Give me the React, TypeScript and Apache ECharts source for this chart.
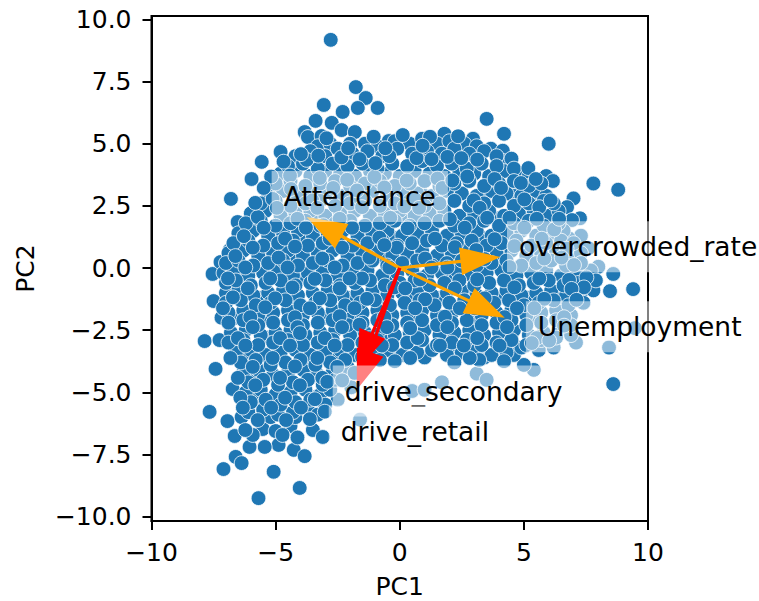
import React, { useEffect, useRef } from "react";
import * as echarts from "echarts";

const xTicks = [-10, -5, 0, 5, 10];
const yTicks = [-10, -7.5, -5, -2.5, 0, 2.5, 5, 7.5, 10];

// points on the outer rim of the cloud
const outerPoints = [
  [-2.78,9.18],[-1.77,7.28],[-1.37,6.84],[-0.89,6.44],[-1.69,6.44],[-2.3,6.28],[-3.06,6.56],[-3.39,5.92],[-2.74,5.84],
  [-3.83,5.47],[-3.7,5.27],[-3.15,5.31],[-2.34,5.55],[-1.81,5.47],[-0.44,5.11],[-4.8,4.67],[-5.56,4.27],[-5.97,3.58],[-6.8,2.78],
  [3.5,6.0],[4.2,5.4],[6.0,5.0],[2.95,5.2],[1.8,5.4],[3.67,4.8],[4.15,4.72],[2.74,4.6],[3.95,4.25],[4.67,3.85],[5.9,3.7],[6.17,3.5],[5.36,3.3],
  [7.0,2.8],[7.8,3.4],[8.8,3.15],[6.74,2.45],[7.26,2.0],[6.94,1.93],[7.3,1.3],[7.6,0.8],
  [8.6,-0.24],[8.0,0.05],[8.47,-0.93],[9.4,-0.85],[9.47,-2.42],[8.43,-3.2],[8.6,-4.67],[7.1,-3.0],[6.2,-3.2],[5.6,-3.3],
  [-7.86,-2.94],[-7.26,-2.9],[-7.42,-4.06],[-6.73,-4.87],[-7.66,-5.79],[-6.94,-6.16],[-6.37,-6.0],[-6.65,-6.76],[-6.61,-7.6],[-6.37,-7.85],
  [-7.1,-8.09],[-5.08,-8.2],[-5.69,-9.26],[-4.03,-8.85],[-4.27,-7.32],[-3.83,-7.57],[-4.88,-7.12],[-5.44,-7.2],[-6.05,-7.2],
  [-3.5,-6.52],[-3.1,-6.8],[-4.4,-6.36],[-5.52,-6.48],[-5.0,-6.56],[-7.54,-0.24],[-7.5,-1.33],[-7.18,-2.0],[-7.22,0.24],[-6.85,0.72],[-6.53,1.85],[-5.65,2.53],
  [0.5,-4.95],[1.0,-4.9],[1.7,-4.6],[3.1,-4.25],[3.5,-4.5],[5.4,-4.1],[5.0,-3.9],[-2.5,-5.3],[-1.95,-4.8],[-1.6,-6.1],
];

// drawn first, under the rows, so that gaps between the rows read as blue
const interiorUnder = [
  [-4.5,3.7],[-3.3,3.7],[-2.1,3.7],[-0.9,3.7],[0.3,3.7],[1.5,3.7],[2.7,3.7],[3.9,3.7],
  [-5.0,2.9],[-3.8,2.9],[-2.6,2.9],[-1.4,2.9],[-0.2,2.9],[1.0,2.9],[2.2,2.9],[3.4,2.9],[4.6,2.9],[5.7,2.9],
  [-5.7,2.0],[-4.5,2.0],[-3.3,2.0],[-2.1,2.0],[-0.9,2.0],[0.3,2.0],[1.5,2.0],[2.7,2.0],[3.9,2.0],[5.1,2.0],[6.2,2.0],
  [-6.2,1.2],[-5.0,1.2],[-3.8,1.2],[-2.6,1.2],[-1.4,1.2],[-0.2,1.2],[1.0,1.2],[2.2,1.2],[3.4,1.2],[4.6,1.2],[5.8,1.2],[6.8,1.2],
  [-6.6,0.4],[-5.4,0.4],[-4.2,0.4],[-3.0,0.4],[-1.8,0.4],[-0.6,0.4],[0.6,0.4],[1.8,0.4],[3.0,0.4],[4.2,0.4],[5.4,0.4],[6.6,0.4],
  [-6.4,-0.4],[-5.2,-0.4],[-4.0,-0.4],[-2.8,-0.4],[-1.6,-0.4],[-0.4,-0.4],[0.8,-0.4],[2.0,-0.4],[3.2,-0.4],[4.4,-0.4],[5.6,-0.4],[6.8,-0.4],
  [-6.8,-1.2],[-5.6,-1.2],[-4.4,-1.2],[-3.2,-1.2],[-2.0,-1.2],[-0.8,-1.2],[0.4,-1.2],[1.6,-1.2],[2.8,-1.2],[4.0,-1.2],[5.2,-1.2],[6.4,-1.2],
  [-6.6,-2.0],[-5.4,-2.0],[-4.2,-2.0],[-3.0,-2.0],[-1.8,-2.0],[-0.6,-2.0],[0.6,-2.0],[1.8,-2.0],[3.0,-2.0],[4.2,-2.0],[5.4,-2.0],[6.6,-2.0],
  [-6.5,-2.8],[-5.3,-2.8],[-4.1,-2.8],[-2.9,-2.8],[-1.7,-2.8],[-0.5,-2.8],[0.7,-2.8],[1.9,-2.8],[3.1,-2.8],[4.3,-2.8],[5.5,-2.8],
  [-6.2,-3.6],[-5.0,-3.6],[-3.8,-3.6],[-2.6,-3.6],[-1.4,-3.6],[-0.2,-3.5],[1.0,-3.6],[2.2,-3.5],[3.4,-3.6],[4.6,-3.5],
  [-6.0,-4.4],[-4.8,-4.4],[-3.6,-4.4],[-2.5,-4.3],[-5.8,-5.2],[-4.6,-5.2],[-3.4,-5.2],[-5.2,-6.0],[-4.2,-6.0],
];

const interiorFirst = [
  [-3.3,4.9],[-2.8,5.0],[-2.0,5.0],[-1.4,5.0],[-0.9,4.9],[-0.2,5.1],[0.4,5.0],[0.9,5.2],[1.5,5.0],[2.0,5.1],[2.6,5.0],[3.1,4.9],[4.2,4.3],
  [-4.2,4.5],[-3.6,4.7],[-3.0,4.5],[-2.5,4.8],[-1.9,4.6],[-1.3,4.7],[-0.7,4.5],[-0.1,4.8],[0.5,4.6],[1.1,4.7],[1.7,4.6],[2.2,4.8],[2.8,4.6],[3.4,4.7],[3.9,4.5],[4.5,4.4],
  [-4.8,3.8],[-4.2,3.9],[-3.6,3.7],[-3.0,3.9],[-2.4,3.8],[-1.8,3.7],[-1.2,3.9],[-0.6,3.8],[0.0,3.7],[0.6,3.9],[1.2,3.8],[1.8,3.7],[2.4,3.9],[3.0,3.8],[3.6,3.7],[4.2,3.9],[4.8,3.8],[5.2,3.7],
  [-5.3,3.0],[-4.7,3.1],[-4.1,2.9],[-3.5,3.0],[-2.9,3.1],[-2.3,2.9],[-1.7,3.0],[-1.1,3.1],[-0.5,2.9],[0.1,3.1],[0.7,3.0],[1.3,2.9],[1.9,3.1],[2.5,3.0],[3.1,2.9],[3.7,3.1],[4.3,3.0],[4.9,2.9],[5.5,3.1],[5.9,2.9],
  [-6.0,2.2],[-5.4,2.3],[-4.8,2.1],[-4.2,2.2],[-3.6,2.3],[-3.0,2.1],[-2.4,2.2],[-1.8,2.3],[-1.2,2.1],[-0.6,2.2],[0.0,2.3],[0.6,2.1],[1.2,2.2],[1.8,2.3],[2.4,2.1],[3.0,2.2],[3.6,2.3],[4.2,2.1],[4.8,2.2],[5.4,2.3],[6.0,2.1],[6.4,2.3],
  [-6.5,1.4],[-5.9,1.5],[-5.3,1.3],[-4.7,1.4],[-4.1,1.5],[-3.5,1.3],[-2.9,1.4],[-2.3,1.5],[-1.7,1.3],[-1.1,1.4],[-0.5,1.5],[0.1,1.3],[0.7,1.4],[1.3,1.5],[1.9,1.3],[2.5,1.4],[3.1,1.5],[3.7,1.3],[4.3,1.4],[4.9,1.5],[5.5,1.3],[6.1,1.4],[6.6,1.5],
  [-6.9,0.6],[-6.3,0.7],[-5.7,0.5],[-5.1,0.6],[-4.5,0.7],[-3.9,0.5],[-3.3,0.6],[-2.7,0.7],[-2.1,0.5],[-1.5,0.6],[-0.9,0.7],[-0.3,0.5],[0.3,0.6],[0.9,0.7],[1.5,0.5],[2.1,0.6],[2.7,0.7],[3.3,0.5],[3.9,0.6],[4.5,0.7],[5.1,0.5],[5.7,0.6],[6.3,0.7],[6.9,0.5],[7.3,0.6],
  [-7.1,-0.2],[-6.7,-0.1],[-6.1,-0.3],[-5.5,-0.2],[-4.9,-0.1],[-4.3,-0.3],[-3.7,-0.2],[-3.1,-0.1],[-2.5,-0.3],[-1.9,-0.2],[-1.3,-0.1],[-0.7,-0.3],[-0.1,-0.2],[0.5,-0.1],[1.1,-0.3],[1.7,-0.2],[2.3,-0.1],[2.9,-0.3],[3.5,-0.2],[4.1,-0.1],[4.7,-0.3],[5.3,-0.2],[5.9,-0.1],[6.5,-0.3],[7.1,-0.2],[7.7,-0.1],
  [-7.0,-1.0],[-6.5,-0.9],[-5.9,-1.1],[-5.3,-1.0],[-4.7,-0.9],[-4.1,-1.1],[-3.5,-1.0],[-2.9,-0.9],[-2.3,-1.1],[-1.7,-1.0],[-1.1,-0.9],[-0.5,-1.1],[0.1,-1.0],[0.7,-0.9],[1.3,-1.1],[1.9,-1.0],[2.5,-0.9],[3.1,-1.1],[3.7,-1.0],[4.3,-0.9],[4.9,-1.1],[5.5,-1.0],[6.1,-0.9],[6.7,-1.1],[7.3,-1.0],[7.8,-0.9],
  [-6.9,-1.8],[-6.3,-1.7],[-5.7,-1.9],[-5.1,-1.8],[-4.5,-1.7],[-3.9,-1.9],[-3.3,-1.8],[-2.7,-1.7],[-2.1,-1.9],[-1.5,-1.8],[-0.9,-1.7],[-0.3,-1.9],[0.3,-1.8],[0.9,-1.7],[1.5,-1.9],[2.1,-1.8],[2.7,-1.7],[3.3,-1.9],[3.9,-1.8],[4.5,-1.7],[5.1,-1.9],[5.7,-1.8],[6.3,-1.7],[6.9,-1.9],
  [-6.8,-2.6],[-6.2,-2.5],[-5.6,-2.7],[-5.0,-2.6],[-4.4,-2.5],[-3.8,-2.7],[-3.2,-2.6],[-2.6,-2.5],[-2.0,-2.7],[-1.4,-2.6],[-0.8,-2.5],[-0.2,-2.7],[0.4,-2.6],[1.0,-2.5],[1.6,-2.7],[2.2,-2.6],[2.8,-2.5],[3.4,-2.7],[4.0,-2.6],[4.6,-2.5],[5.2,-2.7],[5.8,-2.6],[6.4,-2.5],[6.9,-2.7],
  [-6.6,-3.4],[-6.0,-3.3],[-5.4,-3.5],[-4.8,-3.4],[-4.2,-3.3],[-3.6,-3.5],[-3.0,-3.4],[-2.4,-3.3],[-1.8,-3.5],[-1.1,-3.4],[-0.5,-3.3],[0.1,-3.5],[0.7,-3.4],[1.3,-3.3],[1.9,-3.5],[2.5,-3.4],[3.1,-3.3],[3.7,-3.5],[4.3,-3.4],[4.9,-3.2],
  [-6.3,-4.2],[-5.7,-4.1],[-5.1,-4.3],[-4.5,-4.2],[-3.9,-4.1],[-3.3,-4.3],[-2.7,-4.2],[-2.1,-4.0],[-1.4,-3.95],
  [-6.2,-5.0],[-5.6,-4.9],[-5.0,-5.1],[-4.4,-5.0],[-3.8,-4.9],[-3.2,-5.1],[-2.8,-4.9],
  [-6.1,-5.8],[-5.5,-5.7],[-4.9,-5.9],[-4.3,-5.8],[-3.7,-5.7],[-3.3,-5.9],
];

const interiorSecond = [
  [-4.5,4.1],[-3.9,4.2],[-3.3,4.0],[-2.7,4.2],[-2.1,4.1],[-1.5,4.2],[-0.9,4.0],[-0.3,4.2],[0.3,4.1],[0.9,4.3],[1.5,4.1],[2.1,4.2],[2.7,4.0],[3.3,4.2],[3.9,4.1],[4.6,4.0],
  [-5.0,3.4],[-4.4,3.5],[-3.8,3.3],[-3.2,3.4],[-2.6,3.5],[-2.0,3.3],[-1.4,3.4],[-0.8,3.5],[-0.2,3.3],[0.4,3.4],[1.0,3.5],[1.6,3.3],[2.2,3.4],[2.8,3.5],[3.4,3.3],[4.0,3.4],[4.6,3.5],[5.2,3.3],[5.7,3.4],
  [-5.6,2.6],[-5.0,2.7],[-4.4,2.5],[-3.8,2.6],[-3.2,2.7],[-2.6,2.5],[-2.0,2.6],[-1.4,2.7],[-0.8,2.5],[-0.2,2.6],[0.4,2.7],[1.0,2.5],[1.6,2.6],[2.2,2.7],[2.8,2.5],[3.4,2.6],[4.0,2.7],[4.6,2.5],[5.2,2.6],[5.8,2.7],[6.2,2.6],
  [-6.2,1.8],[-5.6,1.9],[-5.0,1.7],[-4.4,1.8],[-3.8,1.9],[-3.2,1.7],[-2.6,1.8],[-2.0,1.9],[-1.4,1.7],[-0.8,1.8],[-0.2,1.9],[0.4,1.7],[1.0,1.8],[1.6,1.9],[2.2,1.7],[2.8,1.8],[3.4,1.9],[4.0,1.7],[4.6,1.8],[5.2,1.9],[5.8,1.7],[6.4,1.8],
  [-6.7,1.0],[-6.1,1.1],[-5.5,0.9],[-4.9,1.0],[-4.3,1.1],[-3.7,0.9],[-3.1,1.0],[-2.5,1.1],[-1.9,0.9],[-1.3,1.0],[-0.7,1.1],[-0.1,0.9],[0.5,1.0],[1.1,1.1],[1.7,0.9],[2.3,1.0],[2.9,1.1],[3.5,0.9],[4.1,1.0],[4.7,1.1],[5.3,0.9],[5.9,1.0],[6.5,1.1],[7.0,1.0],
  [-7.0,0.2],[-6.5,0.3],[-5.9,0.1],[-5.3,0.2],[-4.7,0.3],[-4.1,0.1],[-3.5,0.2],[-2.9,0.3],[-2.3,0.1],[-1.7,0.2],[-1.1,0.3],[-0.5,0.1],[0.1,0.2],[0.7,0.3],[1.3,0.1],[1.9,0.2],[2.5,0.3],[3.1,0.1],[3.7,0.2],[4.3,0.3],[4.9,0.1],[5.5,0.2],[6.1,0.3],[6.7,0.1],[7.3,0.2],
  [-7.0,-0.6],[-6.6,-0.5],[-6.0,-0.7],[-5.4,-0.6],[-4.8,-0.5],[-4.2,-0.7],[-3.6,-0.6],[-3.0,-0.5],[-2.4,-0.7],[-1.8,-0.6],[-1.2,-0.5],[-0.6,-0.7],[0.0,-0.6],[0.6,-0.5],[1.2,-0.7],[1.8,-0.6],[2.4,-0.5],[3.0,-0.7],[3.6,-0.6],[4.2,-0.5],[4.8,-0.7],[5.4,-0.6],[6.0,-0.5],[6.6,-0.7],[7.2,-0.6],[7.9,-0.5],
  [-7.0,-1.4],[-6.4,-1.3],[-5.8,-1.5],[-5.2,-1.4],[-4.6,-1.3],[-4.0,-1.5],[-3.4,-1.4],[-2.8,-1.3],[-2.2,-1.5],[-1.6,-1.4],[-1.0,-1.3],[-0.4,-1.5],[0.2,-1.4],[0.8,-1.3],[1.4,-1.5],[2.0,-1.4],[2.6,-1.3],[3.2,-1.5],[3.8,-1.4],[4.4,-1.3],[5.0,-1.5],[5.6,-1.4],[6.2,-1.3],[6.8,-1.5],[7.4,-1.4],
  [-6.9,-2.2],[-6.3,-2.1],[-5.7,-2.3],[-5.1,-2.2],[-4.5,-2.1],[-3.9,-2.3],[-3.3,-2.2],[-2.7,-2.1],[-2.1,-2.3],[-1.5,-2.2],[-0.9,-2.1],[-0.3,-2.3],[0.3,-2.2],[0.9,-2.1],[1.5,-2.3],[2.1,-2.2],[2.7,-2.1],[3.3,-2.3],[3.9,-2.2],[4.5,-2.1],[5.1,-2.3],[5.7,-2.2],[6.3,-2.1],[6.9,-2.3],
  [-6.9,-3.0],[-6.3,-2.9],[-5.7,-3.1],[-5.1,-3.0],[-4.5,-2.9],[-3.9,-3.1],[-3.3,-3.0],[-2.7,-2.9],[-2.1,-3.1],[-1.5,-3.0],[-0.9,-2.9],[-0.3,-3.1],[0.3,-3.0],[0.9,-2.9],[1.5,-3.1],[2.1,-3.0],[2.7,-2.9],[3.3,-3.1],[3.9,-3.0],[4.5,-2.9],[5.1,-3.1],[5.7,-2.9],[6.3,-2.8],
  [-6.4,-3.8],[-5.8,-3.7],[-5.2,-3.9],[-4.6,-3.8],[-4.0,-3.7],[-3.4,-3.9],[-2.8,-3.8],[-2.2,-3.7],[-0.8,-3.7],[-0.2,-3.75],[2.2,-3.8],[3.2,-3.7],[4.2,-3.75],
  [-6.1,-4.6],[-5.5,-4.5],[-4.9,-4.7],[-4.3,-4.6],[-3.7,-4.5],[-3.1,-4.7],[-2.6,-4.5],
  [-6.0,-5.4],[-5.4,-5.3],[-4.8,-5.5],[-4.2,-5.4],[-3.6,-5.3],[-3.0,-5.5],
];

// loose points laid over the rows, filling the gaps between them
const interiorThird = [
  [-3.75,4.35],[-2.35,4.45],[-1.62,4.38],[-0.42,4.5],[0.68,4.42],[1.92,4.47],[3.12,4.36],[-2.95,5.22],[-1.05,5.28],[0.12,5.35],[1.22,5.28],[2.35,5.3],
  [-4.42,3.72],[-3.22,3.62],[-2.12,3.55],[-1.02,3.66],[0.28,3.52],[1.52,3.6],[2.72,3.68],[3.82,3.58],[4.88,3.42],[-3.98,4.58],[-0.98,4.22],[1.28,4.38],
  [-5.12,2.78],[-4.38,3.18],[-3.52,2.72],[-2.68,3.22],[-1.58,2.78],[-0.62,3.24],[0.62,2.76],[1.72,3.22],[2.98,2.72],[4.08,3.22],[5.02,2.76],[5.62,2.45],
  [-5.72,2.05],[-4.95,2.42],[-4.12,1.98],[-3.32,2.42],[-2.42,1.98],[-1.52,2.45],[-0.38,2.02],[0.78,2.42],[2.02,1.96],[3.22,2.42],[4.42,2.02],[5.52,1.98],[6.22,1.55],
  [-6.28,1.28],[-5.48,1.62],[-4.62,1.18],[-3.78,1.62],[-2.82,1.18],[-1.92,1.62],[-0.82,1.22],[0.32,1.6],[1.42,1.18],[2.62,1.62],[3.82,1.16],[5.02,1.62],[5.72,1.18],[6.72,0.78],
  [-6.62,0.48],[-5.92,0.82],[-4.88,0.42],[-4.22,0.86],[-3.12,0.38],[-2.32,0.82],[-1.22,0.42],[-0.12,0.82],[1.02,0.38],[2.22,0.84],[3.42,0.36],[4.62,0.88],[5.82,0.38],[6.52,0.42],[7.02,0.12],[7.52,-0.38],
  [-6.92,-0.42],[-6.22,0.02],[-5.22,-0.42],[-4.52,0.02],[-3.42,-0.44],[-2.62,0.02],[-1.52,-0.42],[-0.42,0.02],[0.82,-0.46],[1.92,0.02],[3.12,-0.46],[4.42,0.04],[5.62,-0.42],[6.82,-0.48],[7.42,-0.78],
  [-6.72,-1.18],[-6.12,-0.82],[-5.02,-1.22],[-4.32,-0.78],[-3.22,-1.22],[-2.42,-0.82],[-1.32,-1.24],[-0.22,-0.78],[1.02,-1.26],[2.22,-0.82],[3.42,-1.22],[4.62,-0.78],[5.82,-1.24],[6.92,-0.84],[7.12,-1.28],
  [-7.12,-1.62],[-6.02,-1.98],[-5.42,-1.58],[-4.22,-1.98],[-3.62,-1.62],[-2.42,-1.94],[-1.82,-1.62],[-0.62,-1.98],[0.62,-1.62],[1.82,-1.96],[3.02,-1.62],[4.22,-1.98],[5.42,-1.62],[6.62,-1.98],
  [-6.52,-2.82],[-5.92,-2.38],[-4.82,-2.82],[-4.12,-2.38],[-3.02,-2.82],[-2.32,-2.38],[-1.22,-2.82],[-0.52,-2.38],[0.72,-2.82],[1.92,-2.38],[3.12,-2.82],[4.32,-2.38],[5.52,-2.82],[6.62,-2.32],
  [-6.82,-3.62],[-6.22,-3.12],[-5.12,-3.62],[-4.42,-3.12],[-3.32,-3.62],[-2.62,-3.12],[-1.52,-3.58],[-0.72,-3.12],[0.42,-3.62],[1.62,-3.12],[2.82,-3.62],[4.02,-3.12],[5.32,-3.02],[6.02,-2.92],
  [-6.52,-4.42],[-5.92,-3.98],[-4.82,-4.42],[-4.22,-3.96],[-3.12,-4.42],[-2.52,-3.98],[-1.82,-4.22],[-2.32,-4.52],
  [-6.42,-5.22],[-5.82,-4.72],[-4.62,-5.22],[-4.02,-4.72],[-3.42,-5.28],[-2.92,-4.58],[-3.02,-5.78],
  [-6.32,-5.62],[-5.72,-6.12],[-5.18,-5.62],[-4.58,-6.12],[-3.98,-5.62],[-3.62,-6.08],[-5.92,-6.72],[-4.72,-6.72],[-4.12,-6.82],[-6.22,-6.52],
  [-3.28,4.52],[-2.08,4.82],[-0.58,4.82],[0.92,4.92],[2.48,4.42],[-4.68,4.28],[-5.18,3.68],[-5.48,3.22],[-5.82,2.62],[5.18,4.02],[5.48,3.58],[6.08,2.72],[6.42,1.98],
  [-1.72,3.12],[0.18,2.48],[2.12,3.52],[3.52,2.02],[-3.08,1.72],[-0.62,0.92],[1.28,0.02],[3.08,0.72],[-2.02,-0.42],[0.22,-0.82],[2.42,-1.62],[4.72,-1.62],[-4.02,-2.62],[-1.62,-2.28],[0.42,-2.42],[2.58,-3.12],
];

// principal-component loadings: arrow tips from the origin
const arrowNames = ["Attendance", "overcrowded_rate", "Unemployment", "drive_retail", "drive_secondary"];
const arrowX = [-3.75, 4.05, 4.23, -1.73, -1.73];
const arrowY = [2.05, 0.44, -2.0, -4.11, -4.9];
const arrowColors = ["#ffa500", "#ffa500", "#ffa500", "#ff0000", "#ff0000"];

// annotation anchors (left edge of the box, vertical middle)
const labelNames = ["Attendance", "overcrowded_rate", "Unemployment", "drive_secondary", "drive_retail"];
const labelX = [-5.16, 4.32, 5.08, -2.7, -2.86];
const labelY = [2.88, 0.86, -2.36, -4.95, -6.56];

const FONT = "DejaVu Sans";
const scatterData = [...outerPoints, ...interiorUnder, ...interiorFirst, ...interiorSecond, ...interiorThird];

function renderArrow(params: any, api: any) {
  const tip = api.coord([api.value(0), api.value(1)]);
  const o = api.coord([0, 0]);
  const dx = tip[0] - o[0];
  const dy = tip[1] - o[1];
  const len = Math.sqrt(dx * dx + dy * dy);
  const ux = dx / len;
  const uy = dy / len;
  const px = -uy;
  const py = ux;
  const headLen = 40;
  const headW = 14;
  const shaftW = 1.6;
  const bx = tip[0] - ux * headLen;
  const by = tip[1] - uy * headLen;
  const color = arrowColors[params.dataIndex];
  return {
    type: "polygon",
    shape: {
      points: [
        [o[0] + px * shaftW, o[1] + py * shaftW],
        [bx + px * shaftW, by + py * shaftW],
        [bx + px * headW, by + py * headW],
        tip,
        [bx - px * headW, by - py * headW],
        [bx - px * shaftW, by - py * shaftW],
        [o[0] - px * shaftW, o[1] - py * shaftW],
      ],
    },
    style: { fill: color, stroke: null },
  };
}

function renderLabel(params: any, api: any) {
  const p = api.coord([api.value(0), api.value(1)]);
  return {
    type: "text",
    x: p[0],
    y: p[1],
    style: {
      text: labelNames[params.dataIndex],
      fill: "#000",
      font: `26.5px "${FONT}"`,
      align: "left",
      verticalAlign: "middle",
      backgroundColor: "rgba(255,255,255,0.5)",
      padding: [12, 12],
    },
  };
}

export default function App() {
  const ref = useRef<HTMLDivElement>(null);
  useEffect(() => {
    document.body.style.margin = "0";
    const chart = echarts.init(ref.current!, undefined, { renderer: "svg" });
    const tick = { show: true, length: 9, lineStyle: { color: "#000", width: 2 } };
    chart.setOption({
      animation: false,
      backgroundColor: "#fff",
      grid: {
        left: 151.5, right: 111, top: 16, bottom: 80,
        outerBoundsMode: "none",
        show: true, borderColor: "#000", borderWidth: 2, backgroundColor: "transparent",
      },
      xAxis: {
        type: "value",
        min: -10,
        max: 10,
        name: "PC1",
        nameLocation: "middle",
        nameGap: 53,
        nameTextStyle: { fontFamily: FONT, fontSize: 25, color: "#000" },
        splitLine: { show: false },
        axisLine: { show: true, onZero: false, lineStyle: { color: "#000", width: 2 } },
        axisTick: { ...tick, customValues: xTicks },
        axisLabel: {
          customValues: xTicks,
          fontFamily: FONT,
          fontSize: 25,
          color: "#000",
          margin: 19,
          formatter: (v: number) => String(v).replace("-", "\u2212"),
        },
      },
      yAxis: {
        type: "value",
        min: -10.18,
        max: 10.14,
        name: "PC2",
        nameLocation: "middle",
        nameGap: 114,
        nameTextStyle: { fontFamily: FONT, fontSize: 25, color: "#000" },
        splitLine: { show: false },
        axisLine: { show: true, onZero: false, lineStyle: { color: "#000", width: 2 } },
        axisTick: { ...tick, customValues: yTicks },
        axisLabel: {
          customValues: yTicks,
          fontFamily: FONT,
          fontSize: 25,
          color: "#000",
          margin: 20,
          formatter: (v: number) => v.toFixed(1).replace("-", "\u2212"),
        },
      },
      series: [
        {
          type: "scatter",
          name: "scores",
          data: scatterData,
          symbolSize: 14.8,
          z: 2,
          itemStyle: { color: "#1f77b4", borderColor: "#fff", borderWidth: 0.8, opacity: 1 },
        },
        {
          type: "custom",
          name: "loadings",
          z: 3,
          clip: false,
          data: arrowNames.map((n, i) => ({ name: n, value: [arrowX[i], arrowY[i]] })),
          encode: { x: 0, y: 1 },
          renderItem: renderArrow,
        },
        {
          type: "custom",
          name: "labels",
          z: 4,
          clip: false,
          data: labelNames.map((n, i) => ({ name: n, value: [labelX[i], labelY[i]] })),
          encode: { x: 0, y: 1 },
          renderItem: renderLabel,
        },
      ],
    });
    return () => chart.dispose();
  }, []);
  return <div ref={ref} style={{ position: "absolute", left: 0, top: 0, width: 759, height: 601 }} />;
}
